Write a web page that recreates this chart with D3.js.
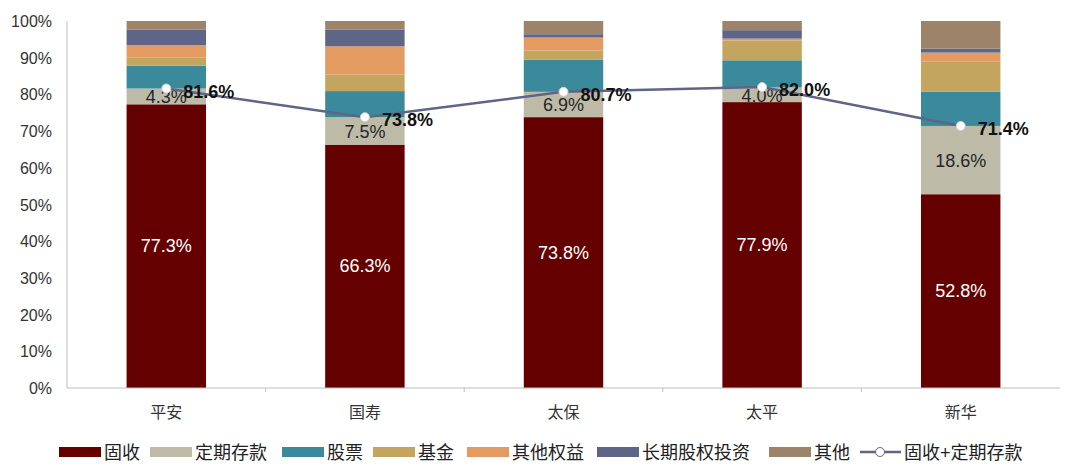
<!DOCTYPE html>
<html>
<head>
<meta charset="utf-8">
<script src="https://cdn.jsdelivr.net/npm/d3@7"></script>
<style>
  body { margin: 0; background: #fff; }
  text { font-family: "Liberation Sans", Arial, "Noto Sans CJK SC", sans-serif; }
</style>
</head>
<body>
<svg id="chart" width="1080" height="474"></svg>
<script>
// insurers on the x axis
var companies = ["平安", "国寿", "太保", "太平", "新华"];
var seriesNames = ["固收", "定期存款", "股票", "基金", "其他权益", "长期股权投资", "其他"];
var seriesColors = ["#650000", "#bdbba8", "#3b8a9b", "#c4a55f", "#e39b61", "#5f6586", "#9d8369"];

// asset allocation shares, %
var fixedIncome = [77.3, 66.3, 73.8, 77.9, 52.8];
var deposits = [4.3, 7.5, 6.9, 4.0, 18.6];
var stocks = [6.2, 7.1, 8.8, 7.4, 9.3];
var funds = [2.3, 4.5, 2.5, 5.4, 8.2];
var otherEquity = [3.3, 7.7, 3.5, 0.5, 2.5];
var longTermEquity = [4.3, 4.5, 0.9, 2.3, 1.1];
var others = [2.3, 2.4, 3.6, 2.5, 7.5];
var fixedPlusDeposits = [81.6, 73.8, 80.7, 82.0, 71.4];

var yTicks = [0, 10, 20, 30, 40, 50, 60, 70, 80, 90, 100];

var series = [fixedIncome, deposits, stocks, funds, otherEquity, longTermEquity, others];

var svg = d3.select("#chart");
var plotLeft = 67, plotRight = 1060, plotTop = 21, plotBottom = 388;

var x = d3.scaleBand().domain(companies).range([plotLeft, plotRight]).paddingInner(0.6).paddingOuter(0.3);
var xOuter = d3.scaleBand().domain(companies).range([plotLeft, plotRight]);
var y = d3.scaleLinear().domain([0, 100]).range([plotBottom, plotTop]);

// build stacked table from the arrays
var rows = companies.map(function(c, i){
	var r = {company: c};
	seriesNames.forEach(function(s, k){ r[s] = series[k][i]; });
	return r;
});
var stacked = d3.stack().keys(seriesNames)(rows);

// y axis
svg.append("line").attr("x1", plotLeft).attr("x2", plotLeft).attr("y1", plotTop).attr("y2", plotBottom)
	.attr("stroke", "#bfbfbf");
svg.selectAll(".ytick").data(yTicks).enter().append("text")
	.attr("x", 52).attr("y", function(d){ return y(d) + 6; })
	.attr("text-anchor", "end").attr("font-size", 16).attr("fill", "#333")
	.text(function(d){ return d + "%"; });

// bars
stacked.forEach(function(layer, k){
	svg.append("g").selectAll("rect").data(layer).enter().append("rect")
		.attr("x", function(d){ return x(d.data.company); })
		.attr("width", x.bandwidth())
		.attr("y", function(d){ return y(d[1]); })
		.attr("height", function(d){ return y(d[0]) - y(d[1]); })
		.attr("fill", seriesColors[k]);
});

// x axis
svg.append("line").attr("x1", plotLeft).attr("x2", plotRight).attr("y1", plotBottom).attr("y2", plotBottom)
	.attr("stroke", "#bfbfbf");
svg.selectAll(".xtick").data(companies.slice(1)).enter().append("line")
	.attr("x1", function(d){ return xOuter(d); }).attr("x2", function(d){ return xOuter(d); })
	.attr("y1", plotBottom).attr("y2", plotBottom + 4).attr("stroke", "#bfbfbf");
svg.selectAll(".xlabel").data(companies).enter().append("text")
	.attr("x", function(d){ return x(d) + x.bandwidth() / 2; }).attr("y", 418)
	.attr("text-anchor", "middle").attr("font-size", 16).attr("fill", "#333")
	.text(function(d){ return d; });

// segment labels
svg.selectAll(".lblFixed").data(stacked[0]).enter().append("text")
	.attr("x", function(d){ return x(d.data.company) + x.bandwidth() / 2; })
	.attr("y", function(d){ return y((d[0] + d[1]) / 2) + 6; })
	.attr("text-anchor", "middle").attr("font-size", 18).attr("fill", "#fff")
	.text(function(d){ return d.data["固收"].toFixed(1) + "%"; });
svg.selectAll(".lblDep").data(stacked[1]).enter().append("text")
	.attr("x", function(d){ return x(d.data.company) + x.bandwidth() / 2; })
	.attr("y", function(d){ return y((d[0] + d[1]) / 2) + 7; })
	.attr("text-anchor", "middle").attr("font-size", 18).attr("fill", "#262626")
	.text(function(d){ return d.data["定期存款"].toFixed(1) + "%"; });

// total line
var cx = function(d, i){ return x(companies[i]) + x.bandwidth() / 2; };
var line = d3.line().x(cx).y(function(d){ return y(d); });
svg.append("path").datum(fixedPlusDeposits).attr("d", line)
	.attr("fill", "none").attr("stroke", "#5f6586").attr("stroke-width", 2.5);
svg.selectAll(".pt").data(fixedPlusDeposits).enter().append("circle")
	.attr("cx", cx).attr("cy", function(d){ return y(d); }).attr("r", 4.5)
	.attr("fill", "#fff").attr("stroke", "#d0d0d0").attr("stroke-width", 1);
svg.selectAll(".ptlbl").data(fixedPlusDeposits).enter().append("text")
	.attr("x", function(d, i){ return cx(d, i) + 17; })
	.attr("y", function(d){ return y(d) + 9; })
	.attr("font-size", 18).attr("font-weight", "bold").attr("fill", "#111")
	.text(function(d){ return d.toFixed(1) + "%"; });

// legend
var legendX = [59, 150, 282, 373, 467, 597, 769];
var legend = svg.append("g");
seriesNames.forEach(function(s, k){
	legend.append("rect").attr("x", legendX[k]).attr("y", 447).attr("width", 42).attr("height", 10)
		.attr("fill", seriesColors[k]);
	legend.append("text").attr("x", legendX[k] + 45).attr("y", 459).attr("font-size", 18)
		.attr("fill", "#222").text(s);
});
legend.append("line").attr("x1", 860).attr("x2", 901).attr("y1", 452).attr("y2", 452)
	.attr("stroke", "#5f6586").attr("stroke-width", 2.5);
legend.append("circle").attr("cx", 880).attr("cy", 452).attr("r", 4.5)
	.attr("fill", "#fff").attr("stroke", "#5f6586").attr("stroke-width", 1);
legend.append("text").attr("x", 904).attr("y", 459).attr("font-size", 18)
	.attr("fill", "#222").text("固收+定期存款");
</script>
</body>
</html>
